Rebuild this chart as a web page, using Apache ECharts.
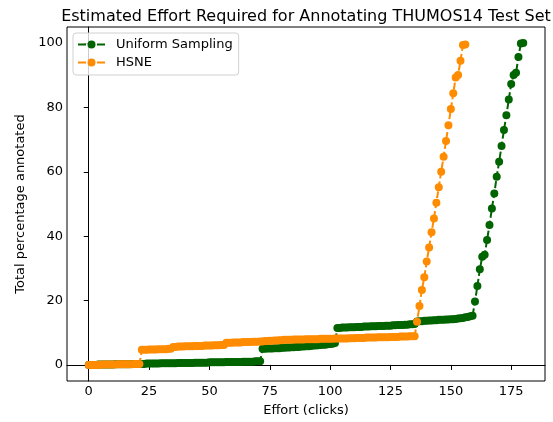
<!DOCTYPE html>
<html>
<head>
<meta charset="utf-8">
<script src="https://cdn.jsdelivr.net/npm/echarts@6/dist/echarts.min.js"></script>
<style>html,body{margin:0;padding:0;background:#fff}#c{width:553px;height:422px}</style>
</head>
<body>
<div id="c"></div>
<script>
// Effort (clicks) is the index into each array
const uniformValues = [
  0.0,0.0,0.0,0.0,0.1,0.1,0.1,0.1,0.1,0.1,0.1,0.2,0.2,0.2,0.2,0.2,0.2,0.2,0.3,0.3,0.3,
  0.3,0.3,0.3,0.4,0.4,0.4,0.4,0.4,0.4,0.5,0.5,0.5,0.5,0.5,0.5,0.5,0.6,0.6,0.6,0.6,
  0.6,0.6,0.6,0.7,0.7,0.7,0.7,0.7,0.7,0.8,0.8,0.8,0.8,0.8,0.8,0.8,0.9,0.9,0.9,0.9,
  0.9,0.9,0.9,1.0,1.0,1.0,1.0,1.0,1.1,1.1,1.1,
  5.0,5.0,5.1,5.1,5.1,5.2,5.2,5.2,5.3,5.3,5.4,5.4,5.5,5.5,5.6,5.6,5.7,5.7,5.8,5.8,
  5.9,6.0,6.0,6.1,6.2,6.3,6.3,6.4,6.5,6.6,6.8,
  11.5,11.5,11.6,11.6,11.6,11.7,11.7,11.7,11.8,11.8,11.8,11.9,11.9,11.9,12.0,12.0,12.0,
  12.1,12.1,12.1,12.2,12.2,12.2,12.3,12.3,12.4,12.4,12.4,12.5,12.5,12.6,12.6,12.7,
  13.5,13.6,13.6,13.7,13.7,13.8,13.8,13.9,13.9,14.0,14.0,14.0,14.1,14.1,14.2,14.2,
  14.3,14.4,14.5,14.6,14.8,14.9,15.1,15.3,
  19.7,24.5,29.7,33.6,34.2,38.8,43.5,48.6,53.3,58.5,63.1,68.0,73.0,77.6,82.5,87.3,
  90.1,90.8,95.7,99.9,100.0
];
const hsneValues = [
  0.0,0.0,0.0,0.0,0.0,0.1,0.1,0.1,0.1,0.1,0.1,0.1,0.2,0.2,0.2,0.2,0.2,0.2,0.2,0.3,0.3,0.3,
  4.7,4.7,4.7,4.8,4.8,4.8,4.8,4.9,4.9,4.9,4.9,5.0,5.0,
  5.6,5.6,5.7,5.7,5.7,5.8,5.8,5.8,5.8,5.9,5.9,5.9,5.9,6.0,6.0,6.0,6.0,6.1,6.1,6.1,6.2,6.2,
  6.9,6.9,6.9,7.0,7.0,7.0,7.0,7.1,7.1,7.1,7.1,7.2,7.2,7.2,7.3,7.3,7.4,7.4,7.5,7.5,7.6,7.6,7.7,7.7,
  7.8,7.8,7.8,7.8,7.9,7.9,7.9,7.9,7.9,8.0,8.0,8.0,8.0,8.0,8.0,8.1,8.1,8.1,8.1,8.1,8.1,
  8.2,8.2,8.2,8.2,8.2,8.2,8.3,8.3,8.3,
  8.4,8.4,8.4,8.4,8.5,8.5,8.5,8.5,8.5,8.6,8.6,8.6,8.6,8.6,8.7,8.7,8.7,8.7,8.8,8.8,8.8,8.8,8.9,8.9,8.9,
  13.4,18.3,23.3,27.2,32.1,36.5,41.2,45.5,50.4,55.2,60.0,64.7,69.6,74.5,79.5,84.4,
  89.3,90.1,94.5,99.4,99.6
];
const xTicks = [0, 25, 50, 75, 100, 125, 150, 175];
const yTicks = [0, 20, 40, 60, 80, 100];
const seriesNames = ['Uniform Sampling', 'HSNE'];
const titleText = 'Estimated Effort Required for Annotating THUMOS14 Test Set';

const FONT = 'DejaVu Sans';
const chart = echarts.init(document.getElementById('c'), null, {renderer: 'canvas'});
function mk(name, vals, color) {
  return {
    name: name, type: 'line',
    data: vals.map((v, i) => [i, v]),
    symbol: 'circle', symbolSize: 8, showSymbol: true, showAllSymbol: true,
    itemStyle: {color: color},
    lineStyle: {color: color, width: 2, type: [7, 3]},
    emphasis: {disabled: true},
    animation: false
  };
}
const legendIcon = 'path://M0,3 L8,3 L8,5 L0,5 Z M19,3 L27,3 L27,5 L19,5 Z M9.5,4 A4,4 0 1,0 17.5,4 A4,4 0 1,0 9.5,4 Z';
chart.setOption({
  animation: false,
  graphic: [{
    type: 'text', x: 306, y: 17,
    style: {text: titleText, textAlign: 'center', textVerticalAlign: 'middle',
            font: '16px "DejaVu Sans"', fill: '#000'}
  }],
  grid: {left: 67, right: 8, top: 27, bottom: 41, show: true, borderColor: '#000', borderWidth: 1, containLabel: false},
  legend: {
    orient: 'vertical', left: 73, top: 33,
    padding: [5, 6, 6, 5], itemGap: 5, itemWidth: 27, itemHeight: 14,
    icon: legendIcon, symbolKeepAspect: true,
    backgroundColor: 'rgba(255,255,255,0.8)', borderColor: '#d0d0d0', borderWidth: 1, borderRadius: 3,
    textStyle: {fontFamily: FONT, fontSize: 13, color: '#000', padding: [0, 0, 0, 6]},
    data: seriesNames
  },
  xAxis: {
    type: 'value', min: -9, max: 189,
    name: 'Effort (clicks)', nameLocation: 'middle', nameGap: 23,
    nameTextStyle: {fontFamily: FONT, fontSize: 13, color: '#000'},
    axisLine: {show: true, lineStyle: {color: '#000', width: 1}},
    axisTick: {show: true, length: 5, inside: false, customValues: xTicks, lineStyle: {color: '#000'}},
    axisLabel: {customValues: xTicks, fontFamily: FONT, fontSize: 13, color: '#000', margin: 4},
    splitLine: {show: false}
  },
  yAxis: {
    type: 'value', min: -5, max: 105,
    name: 'Total percentage annotated', nameLocation: 'middle', nameGap: 37,
    nameTextStyle: {fontFamily: FONT, fontSize: 13, color: '#000'},
    axisLine: {show: true, lineStyle: {color: '#000', width: 1}},
    axisTick: {show: true, length: 5, inside: false, customValues: yTicks, lineStyle: {color: '#000'}},
    axisLabel: {customValues: yTicks, fontFamily: FONT, fontSize: 13, color: '#000', margin: 4},
    splitLine: {show: false}
  },
  series: [
    mk(seriesNames[0], uniformValues, '#006400'),
    mk(seriesNames[1], hsneValues, '#ff8c00')
  ]
});
</script>
</body>
</html>
